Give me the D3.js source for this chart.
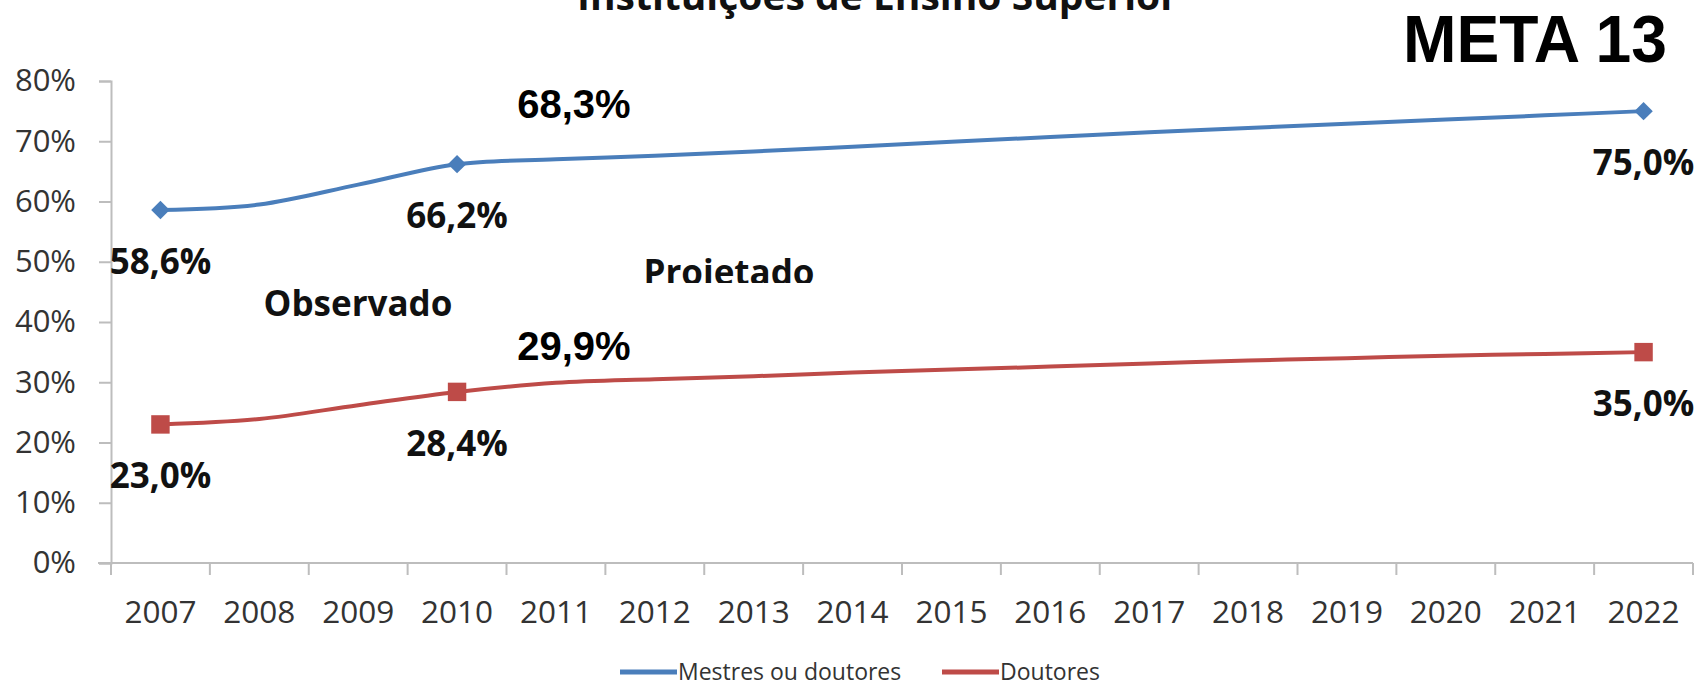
<!DOCTYPE html>
<html>
<head>
<meta charset="utf-8">
<script src="https://d3js.org/d3.v7.min.js"></script>
<style>
  body { margin: 0; background: #fff; }
  svg { display: block; }
</style>
</head>
<body>
<div id="chart"></div>
<script>
var w = 1698,
    h = 686;

// data
var years = [2007, 2008, 2009, 2010, 2011, 2012, 2013, 2014, 2015, 2016, 2017, 2018, 2019, 2020, 2021, 2022];
var mestres = [58.6, 59.5, 62.8, 66.2, 67.0, 67.6, 68.3, 69.1, 69.9, 70.7, 71.5, 72.2, 72.9, 73.6, 74.3, 75.0];
var doutores = [23.0, 23.9, 26.2, 28.4, 29.9, 30.5, 31.0, 31.6, 32.1, 32.6, 33.1, 33.6, 34.0, 34.4, 34.7, 35.0];
var yTicks = [0, 10, 20, 30, 40, 50, 60, 70, 80];
var markerYears = [2007, 2010, 2022];
var seriesNames = ["Mestres ou doutores", "Doutores"];
var seriesColors = ["#4a7ebb", "#be4b48"];
var notes = [{ year: 2011, value: 68.3, text: "68,3%" }, { year: 2011, value: 29.9, text: "29,9%" }];

var svg = d3.select("#chart")
    .append("svg")
    .attr("width", w)
    .attr("height", h)
    .attr("viewBox", "0 0 " + w + " " + h);

var x = d3.scaleBand().domain(years).range([111, 1693]);
var y = d3.scaleLinear().domain([0, 80]).range([563, 81]);
var fmt = function(v) { return v.toFixed(1).replace(".", ",") + "%"; };

// title, mostly cut off at top
svg.append("text")
    .attr("x", 577).attr("y", 10)
    .attr("textLength", 601).attr("lengthAdjust", "spacingAndGlyphs")
    .style("font-family", "Open Sans").style("font-weight", "bold")
    .style("font-size", "38px").style("fill", "#111")
    .text("Instituições de Ensino Superior");

svg.append("text")
    .attr("x", 1403).attr("y", 62)
    .attr("textLength", 264).attr("lengthAdjust", "spacingAndGlyphs")
    .style("font-family", "Liberation Sans").style("font-weight", "bold")
    .style("font-size", "66px").style("fill", "#000")
    .text("META 13");

// y axis
var yAxis = svg.append("g")
    .attr("transform", "translate(111,0)")
    .call(d3.axisLeft(y).tickValues(yTicks).tickSize(12).tickPadding(23)
      .tickFormat(function(d) { return d + "%"; }));
yAxis.select(".domain").attr("stroke", "#bdbdbd").attr("stroke-width", 2);
yAxis.selectAll(".tick line").attr("stroke", "#bdbdbd").attr("stroke-width", 2);
yAxis.selectAll("text")
    .style("font-family", "Open Sans").style("font-size", "31px").style("fill", "#333");

// x axis
svg.append("line")
    .attr("x1", 98).attr("x2", x.range()[1])
    .attr("y1", y(0)).attr("y2", y(0))
    .attr("stroke", "#bdbdbd").attr("stroke-width", 2);

var edges = years.map(function(d) { return x(d); }).concat([x.range()[1]]);
svg.selectAll(".xtick")
    .data(edges)
    .enter().append("line")
    .attr("class", "xtick")
    .attr("x1", function(d) { return d; }).attr("x2", function(d) { return d; })
    .attr("y1", y(0)).attr("y2", y(0) + 12)
    .attr("stroke", "#bdbdbd").attr("stroke-width", 2);

svg.selectAll(".xlabel")
    .data(years)
    .enter().append("text")
    .attr("class", "xlabel")
    .attr("x", function(d) { return x(d) + x.bandwidth() / 2; })
    .attr("y", 623)
    .attr("text-anchor", "middle")
    .style("font-family", "Open Sans").style("font-size", "31.5px").style("fill", "#333")
    .text(function(d) { return d; });

// lines
var cx = function(d) { return x(d.year) + x.bandwidth() / 2; };
var line = d3.line()
    .x(cx)
    .y(function(d) { return y(d.value); })
    .curve(d3.curveCatmullRom.alpha(0.5));

var series = [mestres, doutores].map(function(vals) {
  return years.map(function(yr, i) { return { year: yr, value: vals[i] }; });
});

svg.selectAll(".series")
    .data(series)
    .enter().append("path")
    .attr("class", "series")
    .attr("d", line)
    .attr("fill", "none")
    .attr("stroke", function(d, i) { return seriesColors[i]; })
    .attr("stroke-width", 4);

// markers: diamond for blue, square for red
var marked = series.map(function(s) {
  return s.filter(function(d) { return markerYears.indexOf(d.year) >= 0; });
});
svg.selectAll(".mk0")
    .data(marked[0])
    .enter().append("path")
    .attr("class", "mk0")
    .attr("d", d3.symbol(d3.symbolSquare, 170))
    .attr("transform", function(d) { return "translate(" + cx(d) + "," + y(d.value) + ")rotate(45)"; })
    .attr("fill", seriesColors[0]);
svg.selectAll(".mk1")
    .data(marked[1])
    .enter().append("path")
    .attr("class", "mk1")
    .attr("d", d3.symbol(d3.symbolSquare, 340))
    .attr("transform", function(d) { return "translate(" + cx(d) + "," + y(d.value) + ")"; })
    .attr("fill", seriesColors[1]);

// value labels under the marked points
svg.selectAll(".vlabel")
    .data(marked[0].concat(marked[1]))
    .enter().append("text")
    .attr("class", "vlabel")
    .attr("x", cx)
    .attr("y", function(d) { return y(d.value) + 64; })
    .attr("text-anchor", "middle")
    .style("font-family", "Open Sans").style("font-weight", "bold")
    .style("font-size", "35px").style("fill", "#111")
    .text(function(d) { return fmt(d.value); });

svg.selectAll(".note")
    .data(notes)
    .enter().append("text")
    .attr("class", "note")
    .attr("x", function(d) { return x(d.year) + x.bandwidth() / 2 + 18; })
    .attr("y", function(d, i) { return y(d.value) + (i === 0 ? -33 : -23); })
    .attr("text-anchor", "middle")
    .style("font-family", "Liberation Sans").style("font-weight", "bold")
    .style("font-size", "40px").style("fill", "#000")
    .text(function(d) { return d.text; });

svg.append("text")
    .attr("x", 358).attr("y", 316)
    .attr("text-anchor", "middle")
    .style("font-family", "Open Sans").style("font-weight", "bold")
    .style("font-size", "35px").style("fill", "#111")
    .text("Observado");

svg.append("clipPath").attr("id", "cut")
  .append("rect").attr("x", 600).attr("y", 240).attr("width", 260).attr("height", 43);
svg.append("text")
    .attr("x", 729).attr("y", 285)
    .attr("text-anchor", "middle")
    .attr("clip-path", "url(#cut)")
    .style("font-family", "Open Sans").style("font-weight", "bold")
    .style("font-size", "35px").style("fill", "#111")
    .text("Projetado");

// legend
var legendX = [620, 942];
var lg = svg.selectAll(".legend")
    .data(seriesNames)
    .enter().append("g")
    .attr("class", "legend")
    .attr("transform", function(d, i) { return "translate(" + legendX[i] + ",672)"; });
lg.append("line")
    .attr("x1", 0).attr("x2", 57)
    .attr("stroke", function(d, i) { return seriesColors[i]; })
    .attr("stroke-width", 5);
lg.append("text")
    .attr("x", 58).attr("y", 8)
    .style("font-family", "Open Sans").style("font-size", "23px").style("fill", "#333")
    .text(function(d) { return d; });
</script>
</body>
</html>
